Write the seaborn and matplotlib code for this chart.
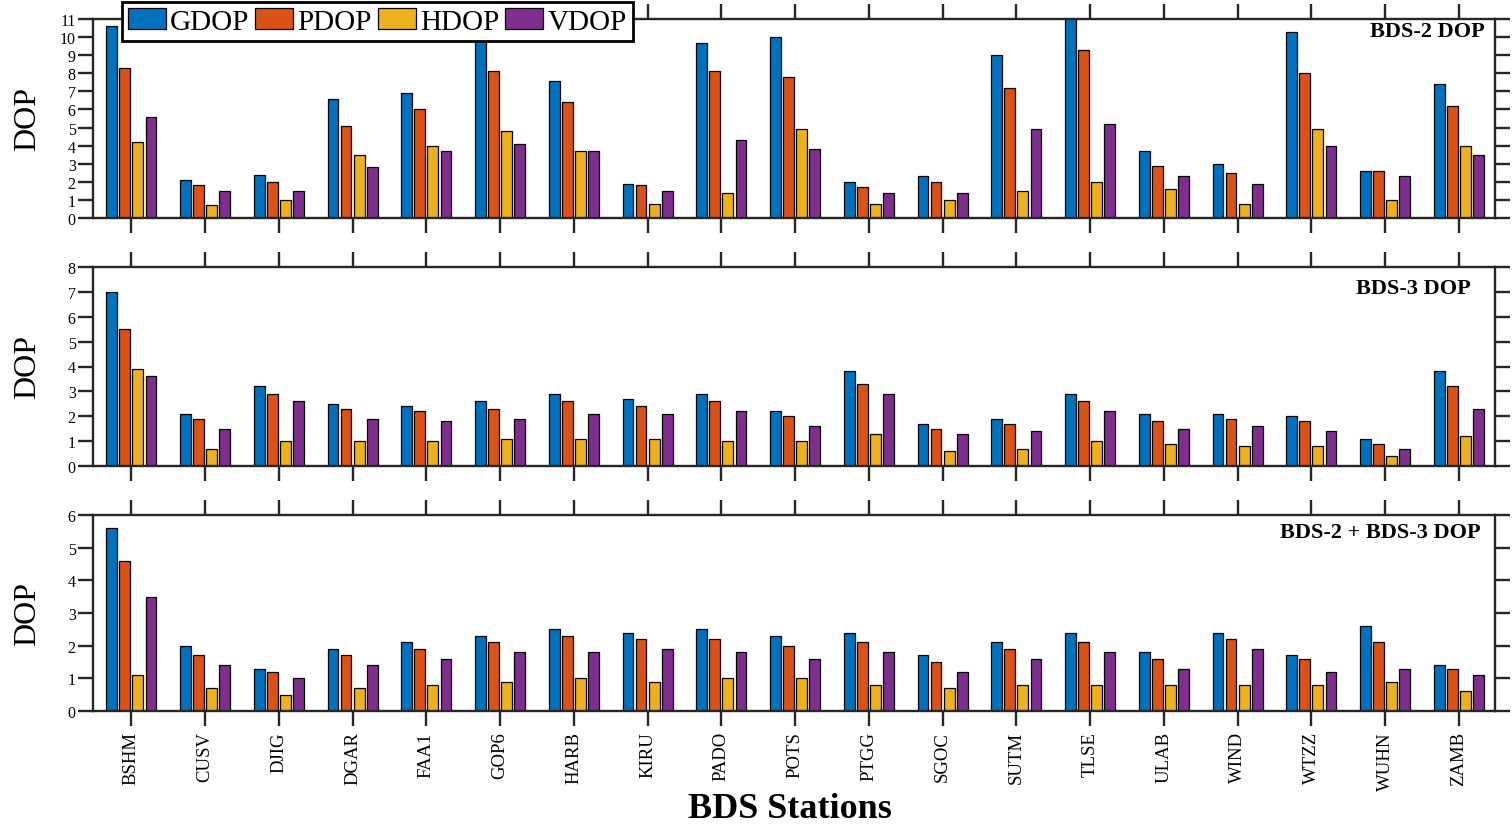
import matplotlib
matplotlib.use("Agg")
import matplotlib.pyplot as plt
from matplotlib.patches import Patch
import pandas as pd
import seaborn as sns

# Stations and DOP types
stations = ["BSHM", "CUSV", "DJIG", "DGAR", "FAA1", "GOP6", "HARB", "KIRU", "PADO", "POTS",
            "PTGG", "SGOC", "SUTM", "TLSE", "ULAB", "WIND", "WTZZ", "WUHN", "ZAMB"]
metrics = ["GDOP", "PDOP", "HDOP", "VDOP"]
colors = ["#0072BD", "#D95319", "#EDB120", "#7E2F8E"]

# BDS-2 only
bds2_gdop = [10.6, 2.1, 2.4, 6.6, 6.9, 10.3, 7.6, 1.9, 9.7, 10.0, 2.0, 2.3, 9.0, 11.1, 3.7, 3.0, 10.3, 2.6, 7.4]
bds2_pdop = [8.3, 1.8, 2.0, 5.1, 6.0, 8.1, 6.4, 1.8, 8.1, 7.8, 1.7, 2.0, 7.2, 9.3, 2.9, 2.5, 8.0, 2.6, 6.2]
bds2_hdop = [4.2, 0.7, 1.0, 3.5, 4.0, 4.8, 3.7, 0.8, 1.4, 4.9, 0.8, 1.0, 1.5, 2.0, 1.6, 0.8, 4.9, 1.0, 4.0]
bds2_vdop = [5.6, 1.5, 1.5, 2.8, 3.7, 4.1, 3.7, 1.5, 4.3, 3.8, 1.4, 1.4, 4.9, 5.2, 2.3, 1.9, 4.0, 2.3, 3.5]

# BDS-3 only
bds3_gdop = [7.0, 2.1, 3.2, 2.5, 2.4, 2.6, 2.9, 2.7, 2.9, 2.2, 3.8, 1.7, 1.9, 2.9, 2.1, 2.1, 2.0, 1.1, 3.8]
bds3_pdop = [5.5, 1.9, 2.9, 2.3, 2.2, 2.3, 2.6, 2.4, 2.6, 2.0, 3.3, 1.5, 1.7, 2.6, 1.8, 1.9, 1.8, 0.9, 3.2]
bds3_hdop = [3.9, 0.7, 1.0, 1.0, 1.0, 1.1, 1.1, 1.1, 1.0, 1.0, 1.3, 0.6, 0.7, 1.0, 0.9, 0.8, 0.8, 0.4, 1.2]
bds3_vdop = [3.6, 1.5, 2.6, 1.9, 1.8, 1.9, 2.1, 2.1, 2.2, 1.6, 2.9, 1.3, 1.4, 2.2, 1.5, 1.6, 1.4, 0.7, 2.3]

# BDS-2 + BDS-3 combined
comb_gdop = [5.6, 2.0, 1.3, 1.9, 2.1, 2.3, 2.5, 2.4, 2.5, 2.3, 2.4, 1.7, 2.1, 2.4, 1.8, 2.4, 1.7, 2.6, 1.4]
comb_pdop = [4.6, 1.7, 1.2, 1.7, 1.9, 2.1, 2.3, 2.2, 2.2, 2.0, 2.1, 1.5, 1.9, 2.1, 1.6, 2.2, 1.6, 2.1, 1.3]
comb_hdop = [1.1, 0.7, 0.5, 0.7, 0.8, 0.9, 1.0, 0.9, 1.0, 1.0, 0.8, 0.7, 0.8, 0.8, 0.8, 0.8, 0.8, 0.9, 0.6]
comb_vdop = [3.5, 1.4, 1.0, 1.4, 1.6, 1.8, 1.8, 1.9, 1.8, 1.6, 1.8, 1.2, 1.6, 1.8, 1.3, 1.9, 1.2, 1.3, 1.1]

panel_titles = ["BDS-2 DOP", "BDS-3 DOP", "BDS-2 + BDS-3 DOP"]
panel_ymax = [11, 8, 6]


def long_frame(g, p, h, v):
    rows = []
    for name, vals in zip(metrics, [g, p, h, v]):
        for st, val in zip(stations, vals):
            rows.append({"Station": st, "Metric": name, "DOP": val})
    return pd.DataFrame(rows)


frames = [
    long_frame(bds2_gdop, bds2_pdop, bds2_hdop, bds2_vdop),
    long_frame(bds3_gdop, bds3_pdop, bds3_hdop, bds3_vdop),
    long_frame(comb_gdop, comb_pdop, comb_hdop, comb_vdop),
]

sns.set_theme(style="ticks")
plt.rcParams["font.family"] = ["Liberation Serif", "DejaVu Serif"]
plt.rcParams["text.color"] = "black"
plt.rcParams["axes.labelcolor"] = "black"
plt.rcParams["xtick.color"] = "#262626"
plt.rcParams["ytick.color"] = "#262626"
plt.rcParams["xtick.labelcolor"] = "black"
plt.rcParams["ytick.labelcolor"] = "black"

W, H = 1512, 829
fig = plt.figure(figsize=(W / 100, H / 100), dpi=100)

# axes rectangles in pixels: (left, top, right, bottom)
boxes = [(93, 20, 1495, 219), (93, 268, 1495, 467), (93, 516, 1495, 712)]
title_pos = [(0.993, 0.94), (0.983, 0.894), (0.990, 0.913)]

axes = []
for i, (l, t, r, b) in enumerate(boxes):
    ax = fig.add_axes([l / W, 1 - b / H, (r - l) / W, (b - t) / H])
    sns.barplot(data=frames[i], x="Station", y="DOP", hue="Metric",
                order=stations, hue_order=metrics, palette=colors,
                saturation=1, width=0.71, gap=0.17, edgecolor="black",
                linewidth=0.9, legend=False, ax=ax)
    ax.set_xlim(-0.52, 18.49)
    ymax = panel_ymax[i]
    ax.set_ylim(0, ymax)
    ax.set_yticks(range(ymax + 1))
    for sp in ax.spines.values():
        sp.set_visible(True)
        sp.set_linewidth(1.7)
        sp.set_color("#262626")
    ax.tick_params(axis="both", direction="out", length=10.5, width=1.7, labelsize=11.5, pad=2)
    ax.tick_params(axis="x", top=True, bottom=True)
    ax.tick_params(axis="y", left=True, right=True)
    ax.set_xlabel("")
    ax.set_ylabel("DOP", fontsize=23)
    ax.yaxis.set_label_coords((42 - 93) / 1402, 0.5)
    ax.text(title_pos[i][0], title_pos[i][1], panel_titles[i], transform=ax.transAxes,
            ha="right", va="center", fontsize=16, fontweight="bold")
    if i < 2:
        ax.tick_params(axis="x", labelbottom=False)
    else:
        ax.tick_params(axis="x", labelsize=13.5, pad=4)
        for lab in ax.get_xticklabels():
            lab.set_rotation(90)
            lab.set_va("top")
            lab.set_ha("center")
    axes.append(ax)

handles = [Patch(facecolor=c, edgecolor="black", linewidth=0.9) for c in colors]
leg = fig.legend(handles, metrics, loc="upper left", bbox_to_anchor=(122 / W, 1 - 3.3 / H),
                 ncol=4, fontsize=21, frameon=True, fancybox=False, edgecolor="black",
                 framealpha=1, handlelength=1.3, handleheight=0.75, handletextpad=0.15,
                 columnspacing=0.2, borderpad=0.2, borderaxespad=0)
leg.get_frame().set_linewidth(2)

fig.text(790 / W, 1 - 810 / H, "BDS Stations", fontsize=26, fontweight="bold",
         ha="center", va="center")

fig.savefig("out.png", dpi=100)
